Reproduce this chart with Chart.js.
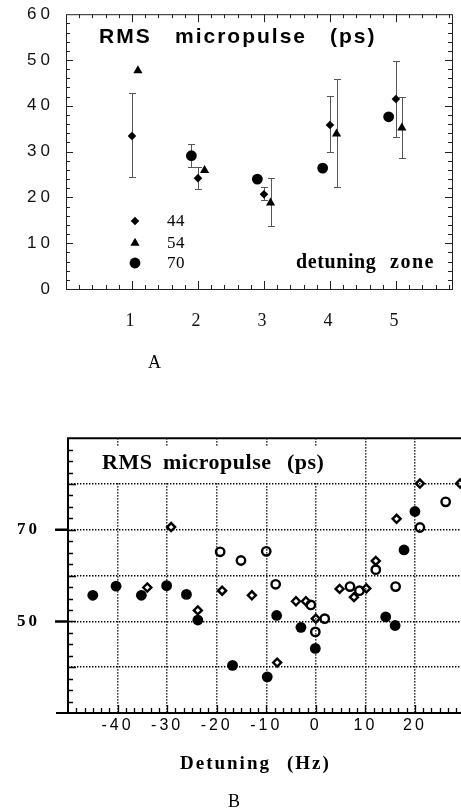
<!DOCTYPE html>
<html lang="en">
<head>
<meta charset="utf-8">
<title>RMS micropulse</title>
<script src="https://cdn.jsdelivr.net/npm/chart.js@4.4.1/dist/chart.umd.min.js"></script>
<style>
  html, body { margin: 0; padding: 0; background: #fff; overflow: hidden; }
  canvas { position: absolute; left: 0; }
  #chartA { top: 0; }
  #chartB { top: 400px; }
</style>
</head>
<body>
<canvas id="chartA" width="461" height="380"></canvas>
<canvas id="chartB" width="472" height="411"></canvas>
<script>
const SANS = '"Liberation Sans", Arial, Helvetica, sans-serif';
const SERIF = '"Liberation Serif", "Times New Roman", Times, serif';

// --- A: RMS micropulse per detuning zone ---
const zoneTicks = [1, 2, 3, 4, 5];
const zoneLabels = ['1', '2', '3', '4', '5'];

// 44 (diamonds)
const d44X = [1, 2, 3, 4, 5];
const d44Y = [33.4, 24.2, 20.7, 35.8, 41.5];
const d44Err = [[24.4, 42.7], [21.8, 26.7], [19.4, 22.2], [30.0, 42.1], [33.2, 49.8]];

// 54 (triangles)
const t54X = [1.09, 2.1, 3.1, 4.1, 5.09];
const t54Y = [47.7, 25.9, 18.8, 33.9, 35.2];
const t54Err = [null, null, [13.8, 24.2], [22.2, 45.8], [28.7, 41.9]];

// 70 (circles)
const c70X = [1.9, 2.9, 3.89, 4.89];
const c70Y = [29.1, 24.0, 26.4, 37.6];
const c70Err = [[26.7, 31.7], null, null, null];

// --- B: RMS micropulse vs detuning (Hz) ---
const detTicks = [-40, -30, -20, -10, 0, 10, 20];
const rmsGrid = [40, 50, 60, 70, 80];
const rmsLabels = [50, 70];

const fullX = [-45.0, -40.3, -35.2, -30.1, -26.1, -23.8, -16.8, -9.8, -7.9, -3.0, -0.1, 14.1, 16.0, 17.8, 20.0];
const fullY = [55.7, 57.7, 55.7, 57.8, 55.9, 50.3, 40.4, 37.9, 51.3, 48.7, 44.1, 51.0, 49.1, 65.6, 74.0];

const ringX = [-19.3, -15.1, -10.0, -8.1, -1.0, 1.8, -0.1, 6.9, 8.8, 12.1, 16.1, 21.0, 26.2];
const ringY = [65.2, 63.3, 65.3, 58.1, 53.6, 50.6, 47.7, 57.6, 56.7, 61.3, 57.6, 70.5, 76.1];

const openDX = [-34.0, -29.2, -23.8, -18.9, -12.9, -7.8, -4.0, -2.0, 0.0, 4.8, 7.7, 10.2, 12.1, 16.3, 21.0, 29.1];
const openDY = [57.4, 70.6, 52.4, 56.7, 55.7, 41.0, 54.4, 54.4, 50.6, 57.1, 55.3, 57.2, 63.2, 72.4, 80.1, 80.1];

const pts = (xs, ys) => xs.map((x, i) => ({ x, y: ys[i] }));

function text(ctx, str, x, y, font, spacing) {
  ctx.save();
  ctx.font = font;
  ctx.letterSpacing = (spacing || 0) + 'px';
  ctx.fillStyle = '#000';
  ctx.textAlign = 'left';
  ctx.textBaseline = 'alphabetic';
  ctx.fillText(str, x, y);
  ctx.restore();
}

function marker(ctx, style, x, y, r) {
  ctx.beginPath();
  if (style === 'circle') {
    ctx.arc(x, y, r, 0, Math.PI * 2);
  } else if (style === 'rectRot') {
    ctx.moveTo(x, y - r); ctx.lineTo(x + r, y); ctx.lineTo(x, y + r); ctx.lineTo(x - r, y);
    ctx.closePath();
  } else {
    const h = r * Math.sqrt(3) / 2;
    ctx.moveTo(x, y - r); ctx.lineTo(x + h, y + r / 2); ctx.lineTo(x - h, y + r / 2);
    ctx.closePath();
  }
  ctx.fillStyle = '#000';
  ctx.fill();
}

const seriesA = [
  { label: '44', xs: d44X, ys: d44Y, err: d44Err, style: 'rectRot', r: 4.3 },
  { label: '54', xs: t54X, ys: t54Y, err: t54Err, style: 'triangle', r: 5.3 },
  { label: '70', xs: c70X, ys: c70Y, err: c70Err, style: 'circle', r: 5.4 },
];

const panelA = {
  id: 'panelA',
  beforeDraw(chart) { chart.ctx.letterSpacing = '4px'; },
  beforeDatasetsDraw(chart) {
    // error bars
    const { ctx, scales: { x, y } } = chart;
    ctx.save();
    ctx.strokeStyle = '#555';
    ctx.lineWidth = 1;
    ctx.beginPath();
    seriesA.forEach(s => s.err.forEach((e, i) => {
      if (!e) return;
      const px = Math.round(x.getPixelForValue(s.xs[i])) + 0.5;
      const lo = Math.round(y.getPixelForValue(e[0])) + 0.5;
      const hi = Math.round(y.getPixelForValue(e[1])) + 0.5;
      ctx.moveTo(px, lo); ctx.lineTo(px, hi);
      ctx.moveTo(px - 3.5, lo); ctx.lineTo(px + 3.5, lo);
      ctx.moveTo(px - 3.5, hi); ctx.lineTo(px + 3.5, hi);
    }));
    ctx.stroke();
    ctx.restore();
  },
  afterDraw(chart) {
    const { ctx, chartArea: a, scales: { x, y } } = chart;
    ctx.save();
    ctx.strokeStyle = '#222';
    ctx.lineWidth = 1;
    ctx.strokeRect(a.left + 0.5, a.top + 0.5, a.right - a.left, a.bottom - a.top);
    // inward ticks on all four sides
    ctx.beginPath();
    for (let k = 1; k / 5 < x.max; k++) {
      const px = Math.round(x.getPixelForValue(k / 5)) + 0.5;
      const len = k % 5 === 0 ? 8 : 4;
      ctx.moveTo(px, a.bottom); ctx.lineTo(px, a.bottom - len);
      ctx.moveTo(px, a.top); ctx.lineTo(px, a.top + len);
    }
    for (let v = 2; v < y.max; v += 2) {
      const py = Math.round(y.getPixelForValue(v)) + 0.5;
      const len = v % 10 === 0 ? 7 : 4;
      ctx.moveTo(a.left, py); ctx.lineTo(a.left + len, py);
      ctx.moveTo(a.right, py); ctx.lineTo(a.right - len, py);
    }
    ctx.stroke();
    ctx.restore();

    // legend
    const rows = [221, 243, 263];
    seriesA.forEach((s, i) => {
      marker(ctx, s.style, 135, rows[i], s.r);
      text(ctx, s.label, 167, rows[i] + 5, `17px ${SERIF}`, 0.5);
    });

    text(ctx, 'RMS', 99, 43, `bold 21px ${SANS}`, 2);
    text(ctx, 'micropulse', 175, 43, `bold 21px ${SANS}`, 2);
    text(ctx, '(ps)', 330, 43, `bold 21px ${SANS}`, 2);

    text(ctx, 'detuning', 296, 268, `bold 20px ${SERIF}`, 0.6);
    text(ctx, 'zone', 390, 268, `bold 20px ${SERIF}`, 1.5);

    text(ctx, 'A', 148, 368, `18px ${SERIF}`, 0);
  }
};

new Chart(document.getElementById('chartA'), {
  type: 'scatter',
  data: {
    datasets: seriesA.map(s => ({
      label: s.label,
      data: pts(s.xs, s.ys),
      pointStyle: s.style,
      pointRadius: s.r,
      pointBackgroundColor: '#000',
      pointBorderColor: '#000',
      pointBorderWidth: 0,
    })),
  },
  options: {
    responsive: false,
    animation: false,
    events: [],
    layout: { padding: { top: 11, right: 9, left: 0, bottom: 0 } },
    plugins: { legend: { display: false }, tooltip: { enabled: false } },
    scales: {
      x: {
        type: 'linear', min: 0, max: 5.85,
        afterBuildTicks: s => { s.ticks = zoneTicks.map(v => ({ value: v })); },
        afterFit: s => { s.height = 91; },
        grid: { display: false },
        border: { display: false },
        ticks: {
          autoSkip: false, maxRotation: 0, padding: 13, color: '#111',
          font: { family: SERIF, size: 18 },
          callback: (v, i) => zoneLabels[i],
        },
      },
      y: {
        min: 0, max: 60,
        afterFit: s => { s.width = 66; },
        grid: { display: false },
        border: { display: false },
        ticks: { stepSize: 10, padding: 4, color: '#111', font: { family: SANS, size: 17 } },
      },
    },
  },
  plugins: [panelA],
});

const panelB = {
  id: 'panelB',
  beforeDraw(chart) { chart.ctx.letterSpacing = '3px'; },
  beforeDatasetsDraw(chart) {
    const { ctx } = chart;
    // title block sits over the grid
    ctx.save();
    ctx.fillStyle = '#fff';
    ctx.fillRect(80, 46, 269, 37);
    ctx.restore();
    text(ctx, 'RMS', 102, 69, `bold 22px ${SERIF}`, 0.5);
    text(ctx, 'micropulse', 163, 69, `bold 22px ${SERIF}`, 0.5);
    text(ctx, '(ps)', 287, 69, `bold 22px ${SERIF}`, 0.5);
  },
  afterDraw(chart) {
    const { ctx, chartArea: a, scales: { x, y } } = chart;
    ctx.save();
    ctx.strokeStyle = '#000';
    ctx.lineWidth = 2;
    ctx.beginPath();
    ctx.moveTo(a.left - 1, a.top); ctx.lineTo(chart.width, a.top);
    ctx.moveTo(a.left, a.top); ctx.lineTo(a.left, a.bottom + 1);
    ctx.moveTo(56, a.bottom); ctx.lineTo(chart.width, a.bottom);
    ctx.stroke();

    // labelled ticks poke out to the left
    ctx.lineWidth = 2.5;
    ctx.beginPath();
    rmsLabels.forEach(v => {
      const py = y.getPixelForValue(v);
      ctx.moveTo(55, py); ctx.lineTo(a.left, py);
    });
    ctx.stroke();

    ctx.lineWidth = 1.3;
    ctx.beginPath();
    for (let k = 1; 30 + k * 2.5 < y.max; k++) {
      const v = 30 + k * 2.5;
      const py = Math.round(y.getPixelForValue(v)) + 0.5;
      const len = v % 10 === 0 ? 8 : 5;
      ctx.moveTo(a.left, py); ctx.lineTo(a.left + len, py);
    }
    for (let k = 1; -50 + k * 10 / 6 < x.max; k++) {
      const px = Math.round(x.getPixelForValue(-50 + k * 10 / 6)) + 0.5;
      const len = k % 6 === 0 ? 8 : 5;
      ctx.moveTo(px, a.bottom); ctx.lineTo(px, a.bottom - len);
    }
    ctx.stroke();
    ctx.restore();

    text(ctx, 'Detuning', 180, 369, `bold 19px ${SERIF}`, 2);
    text(ctx, '(Hz)', 287, 369, `bold 19px ${SERIF}`, 2);
    text(ctx, 'B', 228, 407, `18px ${SERIF}`, 0);
  }
};

new Chart(document.getElementById('chartB'), {
  type: 'scatter',
  data: {
    datasets: [
      {
        label: 'open diamonds',
        data: pts(openDX, openDY),
        pointStyle: 'rectRot', pointRadius: 4, pointBorderWidth: 2.4,
        pointBackgroundColor: 'rgba(0,0,0,0)', pointBorderColor: '#000',
      },
      {
        label: 'open circles',
        data: pts(ringX, ringY),
        pointStyle: 'circle', pointRadius: 4.2, pointBorderWidth: 2.4,
        pointBackgroundColor: 'rgba(0,0,0,0)', pointBorderColor: '#000',
      },
      {
        label: 'filled circles',
        data: pts(fullX, fullY),
        pointStyle: 'circle', pointRadius: 5.4, pointBorderWidth: 0,
        pointBackgroundColor: '#000', pointBorderColor: '#000',
      },
    ],
  },
  options: {
    responsive: false,
    animation: false,
    events: [],
    layout: { padding: { top: 34, right: 7.5, left: 0, bottom: 0 } },
    plugins: { legend: { display: false }, tooltip: { enabled: false } },
    scales: {
      x: {
        type: 'linear', min: -50, max: 30,
        afterFit: s => { s.height = 98; },
        ticks: {
          stepSize: 10, autoSkip: false, maxRotation: 0, padding: 3, color: '#000',
          font: { family: SANS, size: 16 },
          callback: v => detTicks.includes(v) ? String(v) : '',
        },
        grid: {
          drawTicks: false, lineWidth: 1.5,
          color: c => (c.tick && detTicks.includes(c.tick.value)) ? '#000' : 'rgba(0,0,0,0)',
        },
        border: { display: false, dash: [1.4, 1.6] },
      },
      y: {
        min: 30, max: 90,
        afterFit: s => { s.width = 68; },
        ticks: {
          stepSize: 10, padding: 28, color: '#000',
          font: { family: SERIF, size: 17, weight: 'bold' },
          callback: v => rmsLabels.includes(v) ? String(v) : '',
        },
        grid: {
          drawTicks: false, lineWidth: 1.5,
          color: c => (c.tick && rmsGrid.includes(c.tick.value)) ? '#000' : 'rgba(0,0,0,0)',
        },
        border: { display: false, dash: [1.4, 1.6] },
      },
    },
  },
  plugins: [panelB],
});
</script>
</body>
</html>
